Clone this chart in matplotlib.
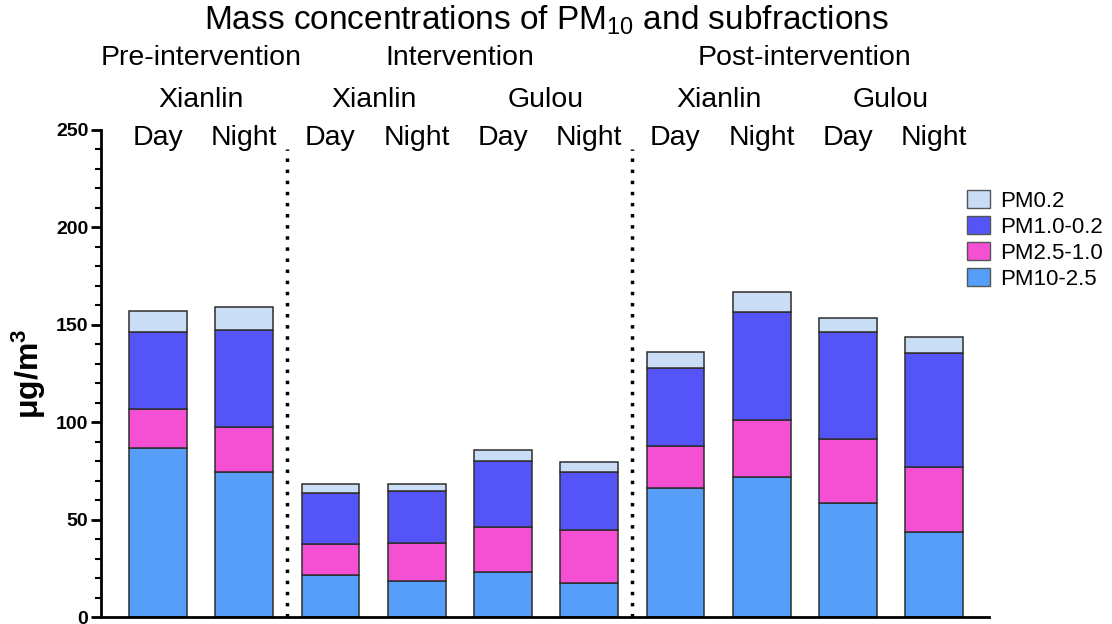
import matplotlib
matplotlib.use("Agg")
import matplotlib.pyplot as plt
import matplotlib.transforms as mtransforms
from matplotlib.patches import Patch
from matplotlib.ticker import MultipleLocator
import numpy as np

plt.rcParams['font.family'] = ['Liberation Sans', 'DejaVu Sans']
plt.rcParams['mathtext.fontset'] = 'custom'
plt.rcParams['mathtext.rm'] = 'Liberation Sans'
plt.rcParams['mathtext.it'] = 'Liberation Sans:italic'
plt.rcParams['mathtext.bf'] = 'Liberation Sans:bold'

# ---- data ----
day_night = ["Day", "Night", "Day", "Night", "Day", "Night", "Day", "Night", "Day", "Night"]
sites = ["Xianlin", "Xianlin", "Gulou", "Xianlin", "Gulou"]
periods = ["Pre-intervention", "Intervention", "Post-intervention"]
series_names = ["PM10-2.5", "PM2.5-1.0", "PM1.0-0.2", "PM0.2"]
pm10_25 = [86.7, 74.3, 21.4, 18.6, 22.9, 17.5, 66.1, 71.9, 58.3, 43.5]
pm25_10 = [20.0, 23.4, 15.9, 19.2, 23.3, 27.0, 21.5, 29.1, 32.9, 33.7]
pm10_02 = [39.6, 49.5, 26.4, 27.1, 33.7, 29.8, 40.2, 55.4, 55.1, 58.2]
pm02 = [10.7, 11.9, 4.4, 3.2, 5.8, 5.4, 8.1, 10.3, 7.4, 8.2]

colors = ["#559ffa", "#f54fd4", "#5555f7", "#c9ddf6"]

fig = plt.figure(figsize=(11.12, 6.24), dpi=100)
ax = fig.add_axes([0.0908, 0.0112, 0.799, 0.7805])

x = np.arange(len(day_night))
bottom = np.zeros(len(x))
handles = []
for vals, c, name in zip([pm10_25, pm25_10, pm10_02, pm02], colors, series_names):
    ax.bar(x, vals, bottom=bottom, width=0.67, color=c, edgecolor="#2e2e2e", linewidth=1.1)
    bottom += np.array(vals)
    handles.append(Patch(facecolor=c, edgecolor="#555555", linewidth=1.0, label=name))

ax.set_xlim(-0.66, 9.64)
ax.set_ylim(0, 250)
ax.set_xticks([])
ax.yaxis.set_major_locator(MultipleLocator(50))
ax.yaxis.set_minor_locator(MultipleLocator(10))
ax.tick_params(axis='y', which='major', length=7, width=2, labelsize=14, pad=2)
ax.tick_params(axis='y', which='minor', length=4, width=1.5)
for lab in ax.get_yticklabels():
    lab.set_fontweight('bold')
for s in ["top", "right"]:
    ax.spines[s].set_visible(False)
for s in ["left", "bottom"]:
    ax.spines[s].set_linewidth(2)
ax.set_ylabel("μg/m$^\\mathbf{3}$", fontsize=23, fontweight='bold', labelpad=6)

# dotted separators
for xs in [1.5, 5.5]:
    ax.axvline(xs, ymin=0, ymax=0.96, color="black", linestyle=(0, (1, 2.2)), linewidth=2.5)

# header texts
tr = mtransforms.blended_transform_factory(ax.transData, fig.transFigure)
for i, t in enumerate(day_night):
    fig.text(x[i], 1 - 138 / 624, t, transform=tr, ha='center', va='center', fontsize=20.5)
site_pos = [0.5, 2.5, 4.5, 6.5, 8.5]
for p, t in zip(site_pos, sites):
    fig.text(p, 1 - 100 / 624, t, transform=tr, ha='center', va='center', fontsize=20.5)
period_pos = [0.5, 3.5, 7.5]
for p, t in zip(period_pos, periods):
    fig.text(p, 1 - 58 / 624, t, transform=tr, ha='center', va='center', fontsize=20.5)
fig.text(4.5, 1 - 20 / 624, "Mass concentrations of PM$_{10}$ and subfractions",
         transform=tr, ha='center', va='center', fontsize=24)

leg = ax.legend(handles=handles[::-1], loc='upper left', bbox_to_anchor=(0.9645, 0.895),
                frameon=False, fontsize=16, handlelength=1.05, handleheight=0.85,
                handletextpad=0.45, labelspacing=0.2, borderaxespad=0)

fig.savefig("out.png", dpi=100)
